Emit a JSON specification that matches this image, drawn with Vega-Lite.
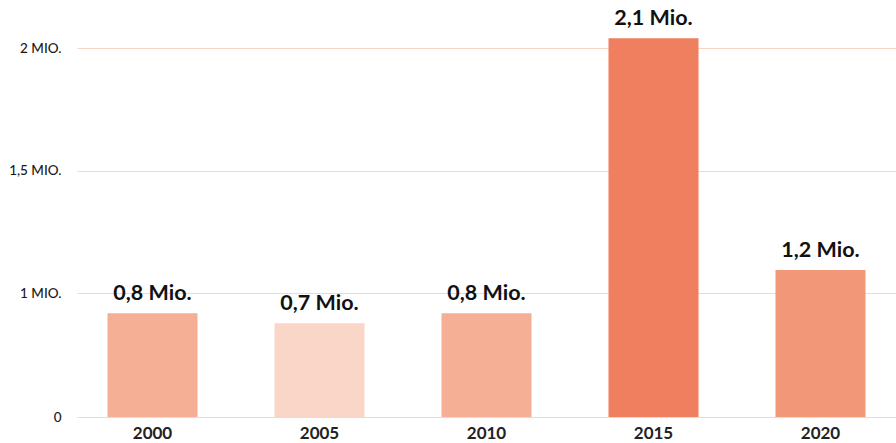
{
  "$schema": "https://vega.github.io/schema/vega-lite/v6.json",
  "autosize": "none",
  "padding": {"left": 77, "top": 0, "right": 0, "bottom": 26},
  "width": 819,
  "height": 417,
  "background": "white",
  "config": {"view": {"stroke": null}, "font": "Lato"},
  "data": {
    "values": [
      {"year": "2000", "value": 836000, "label": "0,8 Mio."},
      {"year": "2005", "value": 756000, "label": "0,7 Mio."},
      {"year": "2010", "value": 836000, "label": "0,8 Mio."},
      {"year": "2015", "value": 2040000, "label": "2,1 Mio."},
      {"year": "2020", "value": 1094000, "label": "1,2 Mio."}
    ]
  },
  "encoding": {
    "x": {
      "field": "year",
      "type": "nominal",
      "sort": null,
      "scale": {"paddingInner": 0.461, "paddingOuter": 0.1826},
      "axis": {
        "title": null,
        "domain": false,
        "ticks": false,
        "labelAngle": 0,
        "labelFontSize": 17,
        "labelFontWeight": "bold",
        "labelColor": "#222222",
        "labelPadding": 8
      }
    },
    "y": {
      "field": "value",
      "type": "quantitative",
      "scale": {"domain": [0, 1000000, 2000000], "range": [417, 293, 48], "nice": false, "zero": false},
      "axis": {
        "title": null,
        "domain": false,
        "ticks": false,
        "values": [0, 1000000, 1500000, 2000000],
        "labelExpr": "datum.value == 0 ? '0' : replace(format(datum.value / 1000000, '~g'), '.', ',') + ' MIO.'",
        "labelFontSize": 13.5,
        "labelFontWeight": 500,
        "labelColor": "#1a1a1a",
        "labelPadding": 16,
        "gridColor": "#fdd3c4",
        "gridWidth": 1,
        "gridOpacity": 1
      }
    }
  },
  "layer": [
    {
      "mark": {"type": "bar"},
      "encoding": {
        "color": {
          "field": "year",
          "type": "nominal",
          "legend": null,
          "scale": {
            "domain": ["2000", "2005", "2010", "2015", "2020"],
            "range": ["#f5af95", "#fad6c9", "#f5af95", "#ef7f5f", "#f39779"]
          }
        }
      }
    },
    {
      "mark": {"type": "text", "baseline": "alphabetic", "dy": -13, "fontSize": 21.5, "fontWeight": "bold", "color": "#111111"},
      "encoding": {"text": {"field": "label"}}
    }
  ]
}
